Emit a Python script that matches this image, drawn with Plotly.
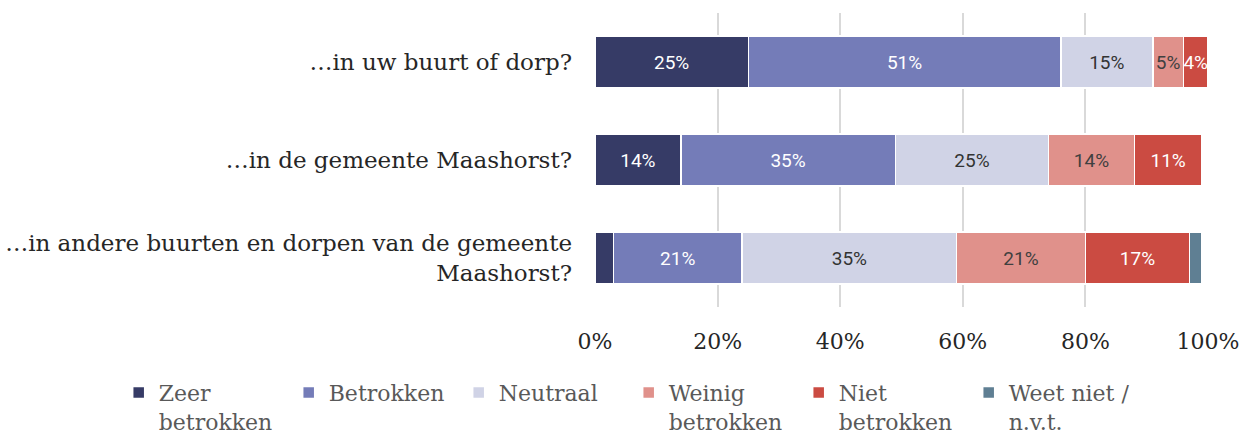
import plotly.graph_objects as go

# Survey: betrokkenheid per schaalniveau
categories = [
    "…in uw buurt of dorp?",
    "…in de gemeente Maashorst?",
    "…in andere buurten en dorpen van de gemeente<br>Maashorst?",
]
series_names = ["Zeer<br>betrokken", "Betrokken", "Neutraal", "Weinig<br>betrokken",
                "Niet<br>betrokken", "Weet niet /<br>n.v.t."]
zeer_betrokken = [25, 14, 3]
betrokken = [51, 35, 21]
neutraal = [15, 25, 35]
weinig_betrokken = [5, 14, 21]
niet_betrokken = [4, 11, 17]
weet_niet = [0, 0, 2]
tick_values = [0, 20, 40, 60, 80, 100]
tick_labels = ["0%", "20%", "40%", "60%", "80%", "100%"]

colors = ["#363B66", "#747CB8", "#D0D3E6", "#E0918B", "#CB4B42", "#5F7F93"]
text_colors = ["#FFFFFF", "#FFFFFF", "#333333", "#404040", "#FFFFFF", "#FFFFFF"]
all_series = [zeer_betrokken, betrokken, neutraal, weinig_betrokken, niet_betrokken, weet_niet]

serif = "DejaVu Serif"

fig = go.Figure()
for name, vals, col, tcol in zip(series_names, all_series, colors, text_colors):
    fig.add_trace(go.Bar(
        y=categories, x=vals, name=name, orientation="h",
        marker=dict(color=col, line=dict(color="white", width=1.5)),
        text=[f"{v}%" if v >= 4 else "" for v in vals],
        textposition="inside", insidetextanchor="middle", textangle=0,
        textfont=dict(family="Roboto", size=19, color=tcol),
        constraintext="none", cliponaxis=False,
    ))

fig.update_layout(
    barmode="stack", bargap=0.47,
    width=1243, height=434,
    margin=dict(l=595, r=35, t=13, b=127, autoexpand=False),
    plot_bgcolor="white", paper_bgcolor="white",
    xaxis=dict(range=[0, 100], tickvals=tick_values, ticktext=tick_labels,
               showgrid=True, gridcolor="#D9D9D9", gridwidth=1.5, zeroline=False,
               tickfont=dict(family=serif, size=22, color="#262626"),
               ticklabelstandoff=19, fixedrange=True, automargin=False),
    yaxis=dict(autorange="reversed", showgrid=False, ticks="",
               tickfont=dict(family=serif, size=23, color="#262626"),
               ticklabelstandoff=22, automargin=False),
    legend=dict(orientation="h", x=-0.777, y=-0.22, xanchor="left", yanchor="top",
                entrywidth=125, entrywidthmode="pixels", traceorder="normal",
                font=dict(family=serif, size=22, color="#595959"),
                itemwidth=30, valign="top"),
    showlegend=True,
)

fig.write_html("out.html")
